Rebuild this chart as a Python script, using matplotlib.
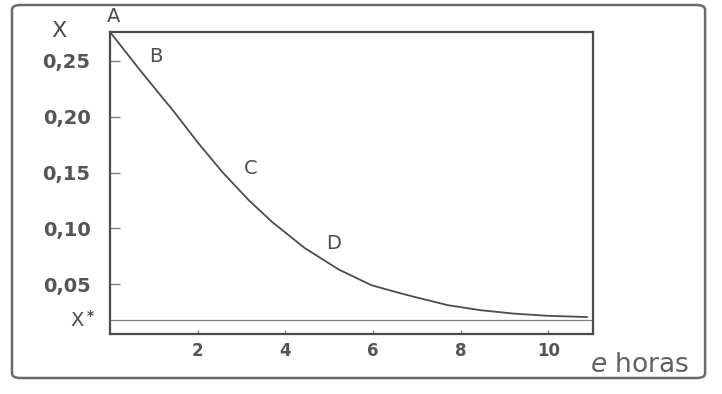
import matplotlib
matplotlib.use("Agg")
import matplotlib.pyplot as plt
from matplotlib.patches import FancyBboxPatch

# drying curve
t_horas = [0.0, 0.70, 1.47, 2.00, 2.56, 3.17, 3.70, 4.44, 5.22, 5.96, 6.60, 6.94, 7.71, 8.46, 9.21, 9.98, 10.88]
humedad = [0.276, 0.241, 0.204, 0.177, 0.1505, 0.125, 0.1056, 0.0823, 0.063, 0.049, 0.042, 0.0385, 0.031, 0.0265, 0.0235, 0.0215, 0.0204]
x_eq = 0.0177
xticks = [2, 4, 6, 8, 10]
yticks = [0.05, 0.10, 0.15, 0.20, 0.25]
ytick_labels = ["0,05", "0,10", "0,15", "0,20", "0,25"]
puntos = ["A", "B", "C", "D"]
puntos_t = [0.07, 1.04, 3.2, 5.1]
puntos_x = [0.290, 0.254, 0.154, 0.086]

plt.rcParams["font.family"] = ["DejaVu Sans"]
gris = "#4c4c4c"

fig = plt.figure(figsize=(7.22, 3.94), dpi=100)
# rounded outer frame
fig.patches.append(FancyBboxPatch((0.0166, 0.0406), 0.96, 0.9467, boxstyle="round,pad=0,rounding_size=0.012",
                                  transform=fig.transFigure, fill=False, ec="#6a6a6a", lw=1.8))

ax = fig.add_axes([0.1524, 0.1523, 0.669, 0.7665])
ax.plot(t_horas, humedad, color=gris, lw=1.3, solid_joinstyle="round")
ax.axhline(x_eq, color="#808080", lw=0.9)
ax.set_xlim(0, 11.02)
ax.set_ylim(0.0052, 0.276)

for s in ax.spines.values():
    s.set_color(gris)
    s.set_linewidth(1.6)

ax.set_xticks(xticks)
ax.set_xticklabels([str(v) for v in xticks], fontsize=12, fontweight="bold", color="#555555")
ax.set_yticks(yticks)
ax.set_yticklabels(ytick_labels, fontsize=14, fontweight="bold", color="#555555")
ax.tick_params(axis="y", direction="in", length=7, width=1, color="#808080", pad=14)
ax.tick_params(axis="x", direction="in", length=3, width=1, color="#808080", pad=6)

for lab, tx, ty in zip(puntos, puntos_t, puntos_x):
    ax.text(tx, ty, lab, fontsize=14, color=gris, ha="center", va="center", clip_on=False)

ax.text(-1.16, 0.277, "X", fontsize=16, color=gris, ha="center", va="center", clip_on=False)
ax.text(-0.75, x_eq, "X", fontsize=14, color=gris, ha="center", va="center", clip_on=False)
ax.text(-0.44, x_eq + 0.004, "*", fontsize=10, fontweight="bold", color=gris, ha="center", va="center", clip_on=False)
ax.text(12.09, -0.0227, "$e$ horas", fontsize=19, color="#606060", ha="center", va="center", clip_on=False)

fig.savefig("out.png", dpi=100)
